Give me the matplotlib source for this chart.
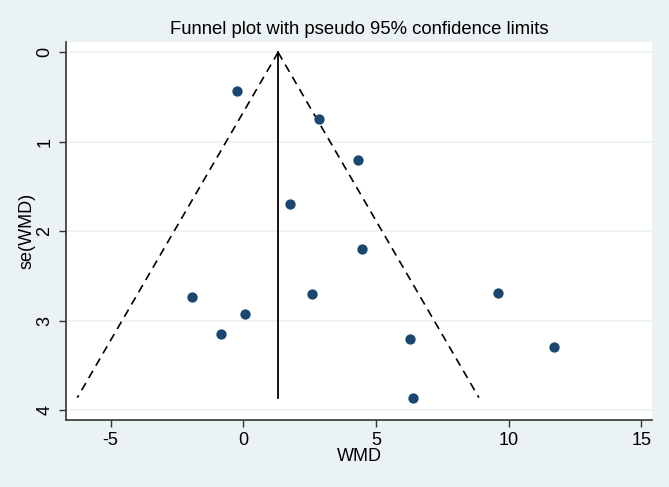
import matplotlib.pyplot as plt
import numpy as np

plt.rcParams['font.family'] = ['Liberation Sans', 'DejaVu Sans']
plt.rcParams['axes.unicode_minus'] = False

# study estimates
wmd = [-0.23, 2.86, 4.31, 1.77, 4.47, -1.92, 2.58, 9.59, 0.08, -0.83, 6.28, 11.69, 6.38]
se_wmd = [0.43, 0.74, 1.20, 1.70, 2.20, 2.74, 2.70, 2.69, 2.93, 3.15, 3.21, 3.29, 3.86]
pooled = 1.31
x_ticks = [-5, 0, 5, 10, 15]
y_ticks = [0, 1, 2, 3, 4]

bg = '#eaf2f3'
navy = '#1a476f'

fig = plt.figure(figsize=(6.69, 4.87), dpi=100, facecolor=bg)
ax = fig.add_axes([0.0987, 0.1376, 0.876, 0.776])
ax.set_facecolor('white')

se_max = max(se_wmd)
se_line = np.array([0, se_max])
ax.plot(pooled - 1.96 * se_line, se_line, color='black', lw=1.2, ls=(0, (5, 3.5)))
ax.plot(pooled + 1.96 * se_line, se_line, color='black', lw=1.2, ls=(0, (5, 3.5)))
ax.plot([pooled, pooled], [0, se_max], color='black', lw=1.3)

ax.scatter(wmd, se_wmd, s=55, color=navy, zorder=3, linewidths=0)

ax.set_xlim(-6.68, 15.4)
ax.set_ylim(4.11, -0.115)
ax.set_xticks(x_ticks)
ax.set_yticks(y_ticks)
ax.set_yticklabels([str(v) for v in y_ticks], rotation=90, va='center')
ax.grid(axis='y', color=bg, lw=1.2)
ax.set_axisbelow(True)
ax.tick_params(labelsize=13, length=5, width=1, color='#333333', pad=4)

for side in ['top', 'right']:
    ax.spines[side].set_visible(False)
for side in ['left', 'bottom']:
    ax.spines[side].set_color('#333333')
    ax.spines[side].set_linewidth(1.2)

ax.set_xlabel('WMD', fontsize=13, labelpad=-1)
ax.set_ylabel('se(WMD)', fontsize=13, labelpad=1)
ax.set_title('Funnel plot with pseudo 95% confidence limits', fontsize=13.3, pad=6)

fig.savefig('out.png', dpi=100, facecolor=bg)
